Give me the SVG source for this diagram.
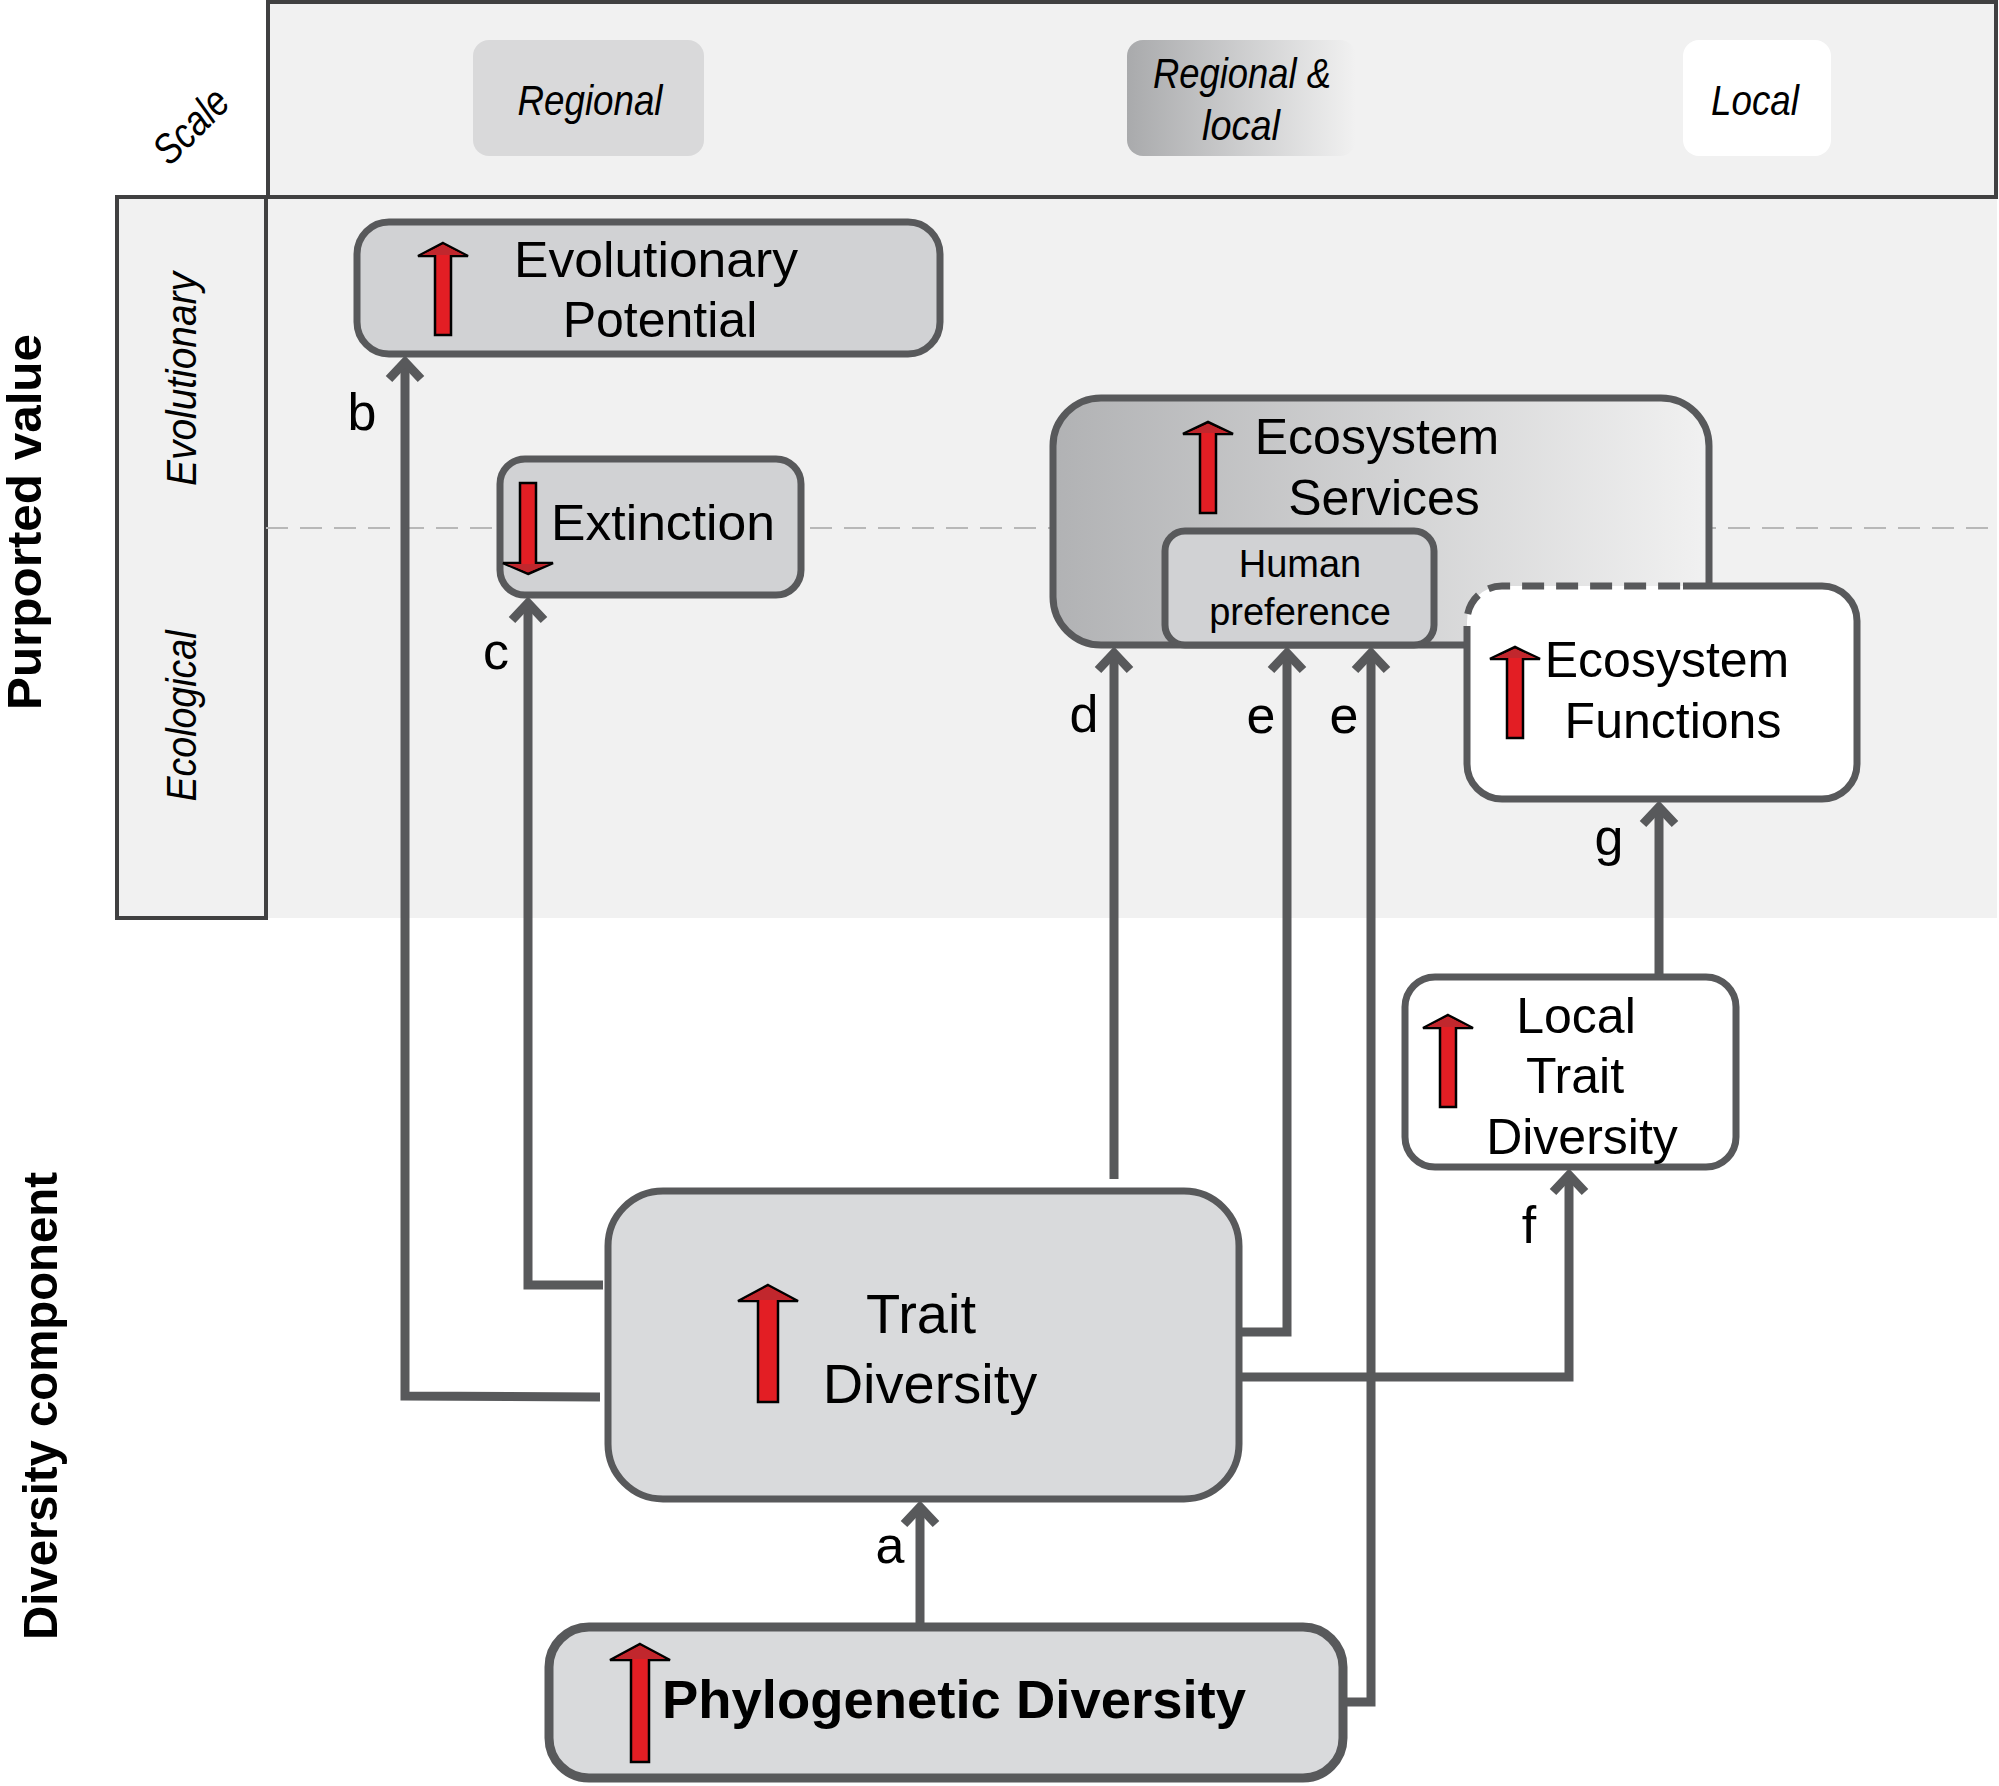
<svg xmlns="http://www.w3.org/2000/svg" width="1999" height="1786" viewBox="0 0 1999 1786">
<style>
.frame{fill:#f1f1f1;stroke:#404041;stroke-width:4}
.node{stroke:#58595b;stroke-width:7}
.lbl{font-family:"Liberation Sans",Arial,sans-serif;fill:#000;text-anchor:middle}
.ital{font-family:"Liberation Sans",Arial,sans-serif;font-style:italic;fill:#000;text-anchor:middle}
.bold{font-family:"Liberation Sans",Arial,sans-serif;font-weight:bold;fill:#000;text-anchor:middle}
.conn{fill:none;stroke:#58595b;stroke-width:9;stroke-linejoin:miter}
.red{fill:#e31e24;stroke:#000;stroke-width:2.5;stroke-linejoin:miter}
.head{fill:#c1272d;stroke:none}
</style>
<defs>
<linearGradient id="gES" x1="0" y1="0" x2="1" y2="0">
<stop offset="0" stop-color="#b1b2b4"/>
<stop offset="1" stop-color="#f1f1f1"/>
</linearGradient>
<linearGradient id="gRL" x1="0" y1="0" x2="1" y2="0">
<stop offset="0" stop-color="#a9aaac"/>
<stop offset="1" stop-color="#f1f1f1"/>
</linearGradient>
<marker id="chev" markerUnits="userSpaceOnUse" orient="auto" overflow="visible" refX="0" refY="0" markerWidth="1" markerHeight="1">
<path d="M-17,-16 L0,0 L-17,16" fill="none" stroke="#58595b" stroke-width="9"/>
</marker>
</defs>

<g id="background">
<rect x="266" y="197" width="1731" height="721" fill="#f1f1f1"/>
<rect class="frame" x="268" y="2" width="1728" height="195"/>
<rect class="frame" x="117" y="197" width="149" height="721"/>
<line x1="266" y1="528" x2="1997" y2="528" stroke="#b8b8b8" stroke-width="2" stroke-dasharray="22 12"/>
</g>

<g id="axis-labels">
<text class="bold" font-size="49" transform="translate(41,522) rotate(-90)" textLength="376" lengthAdjust="spacingAndGlyphs">Purported value</text>
<text class="bold" font-size="49" transform="translate(57,1406) rotate(-90)" textLength="468" lengthAdjust="spacingAndGlyphs">Diversity component</text>
<text class="ital" font-size="42" transform="translate(196,379) rotate(-90)" textLength="214" lengthAdjust="spacingAndGlyphs">Evolutionary</text>
<text class="ital" font-size="42" transform="translate(196,716) rotate(-90)" textLength="171" lengthAdjust="spacingAndGlyphs">Ecological</text>
<text class="ital" font-size="42" transform="translate(191,126) rotate(-45)" y="14" textLength="88" lengthAdjust="spacingAndGlyphs">Scale</text>
</g>

<g id="scale-regional">
<rect x="473" y="40" width="231" height="116" rx="16" fill="#d9d9da"/>
<text class="ital" font-size="42" x="590" y="115" textLength="145" lengthAdjust="spacingAndGlyphs">Regional</text>
</g>
<g id="scale-regional-local">
<rect x="1127" y="40" width="229" height="116" rx="16" fill="url(#gRL)"/>
<text class="ital" font-size="42" x="1242" y="88" textLength="178" lengthAdjust="spacingAndGlyphs">Regional &amp;</text>
<text class="ital" font-size="42" x="1241" y="140" textLength="78" lengthAdjust="spacingAndGlyphs">local</text>
</g>
<g id="scale-local">
<rect x="1683" y="40" width="148" height="116" rx="16" fill="#ffffff"/>
<text class="ital" font-size="42" x="1755" y="115" textLength="88" lengthAdjust="spacingAndGlyphs">Local</text>
</g>

<g id="evolutionary-potential">
<rect class="node" x="357" y="222" width="583" height="132" rx="32" fill="#d1d2d4"/>
<path class="red" d="M443,243 L468,256 L451,256 L451,335 L435,335 L435,256 L418,256 Z"/>
<path class="head" d="M443,245 L464,255 L422,255 Z"/>
<text class="lbl" font-size="50" x="656" y="277" textLength="284" lengthAdjust="spacingAndGlyphs">Evolutionary</text>
<text class="lbl" font-size="50" x="660" y="337">Potential</text>
</g>

<g id="extinction">
<rect class="node" x="500" y="459" width="301" height="136" rx="25" fill="#d1d2d4"/>
<path class="red" d="M528,574 L553,563 L536,563 L536,483 L520,483 L520,563 L503,563 Z"/>
<path class="head" d="M528,572 L549,564 L507,564 Z"/>
<text class="lbl" font-size="50" x="663" y="540" textLength="224" lengthAdjust="spacingAndGlyphs">Extinction</text>
</g>

<g id="ecosystem-services">
<rect class="node" x="1053" y="398" width="656" height="247" rx="48" fill="url(#gES)"/>
<path class="red" d="M1208,422 L1233,434 L1216,434 L1216,513 L1200,513 L1200,434 L1183,434 Z"/>
<path class="head" d="M1208,424 L1229,433 L1187,433 Z"/>
<text class="lbl" font-size="50" x="1377" y="454">Ecosystem</text>
<text class="lbl" font-size="50" x="1384" y="515">Services</text>
</g>

<g id="human-preference">
<rect class="node" x="1165" y="531" width="269" height="114" rx="20" fill="#d1d2d4"/>
<text class="lbl" font-size="38" x="1300" y="577">Human</text>
<text class="lbl" font-size="38" x="1300" y="625">preference</text>
</g>

<g id="ecosystem-functions">
<rect x="1467" y="586" width="390" height="213" rx="35" fill="#ffffff"/>
<path d="M1467,648 L1467,621 A35,35 0 0 1 1502,586 L1683,586" fill="none" stroke="#58595b" stroke-width="7" stroke-dasharray="22 12"/>
<path d="M1683,586 L1822,586 A35,35 0 0 1 1857,621 L1857,764 A35,35 0 0 1 1822,799 L1502,799 A35,35 0 0 1 1467,764 L1467,648" fill="none" stroke="#58595b" stroke-width="7"/>
<path class="red" d="M1515,647 L1540,659 L1523,659 L1523,738 L1507,738 L1507,659 L1490,659 Z"/>
<path class="head" d="M1515,649 L1536,658 L1494,658 Z"/>
<text class="lbl" font-size="50" x="1667" y="677">Ecosystem</text>
<text class="lbl" font-size="50" x="1673" y="738">Functions</text>
</g>

<g id="local-trait-diversity">
<rect class="node" x="1405" y="977" width="331" height="190" rx="30" fill="#ffffff"/>
<path class="red" d="M1448,1015 L1473,1028 L1456,1028 L1456,1107 L1440,1107 L1440,1028 L1423,1028 Z"/>
<path class="head" d="M1448,1017 L1469,1027 L1427,1027 Z"/>
<text class="lbl" font-size="50" x="1576" y="1033">Local</text>
<text class="lbl" font-size="50" x="1575" y="1093">Trait</text>
<text class="lbl" font-size="50" x="1582" y="1154">Diversity</text>
</g>

<g id="trait-diversity">
<rect class="node" x="608" y="1191" width="631" height="308" rx="55" fill="#d9dadc"/>
<path class="red" d="M768,1285 L798,1301 L778,1301 L778,1402 L758,1402 L758,1301 L738,1301 Z"/>
<path class="head" d="M768,1287 L793,1300 L743,1300 Z"/>
<text class="lbl" font-size="56" x="921" y="1333">Trait</text>
<text class="lbl" font-size="56" x="930" y="1403">Diversity</text>
</g>

<g id="phylogenetic-diversity">
<rect x="549" y="1627" width="794" height="151" rx="40" fill="#d9dadc" stroke="#58595b" stroke-width="9"/>
<path class="red" d="M640,1644 L670,1660 L649,1660 L649,1762 L631,1762 L631,1660 L610,1660 Z"/>
<path class="head" d="M640,1646 L665,1659 L615,1659 Z"/>
<text class="bold" font-size="54" x="954" y="1718" textLength="584" lengthAdjust="spacingAndGlyphs">Phylogenetic Diversity</text>
</g>

<g id="connectors">
<path class="conn" d="M600,1397 L405,1396 L405,362" marker-end="url(#chev)"/>
<path class="conn" d="M603,1285 L528,1285 L528,603" marker-end="url(#chev)"/>
<path class="conn" d="M1114,1179 L1114,653" marker-end="url(#chev)"/>
<path class="conn" d="M1242,1332 L1287,1332 L1287,653" marker-end="url(#chev)"/>
<path class="conn" d="M1347,1702 L1371,1702 L1371,653" marker-end="url(#chev)"/>
<path class="conn" d="M1242,1377 L1569,1377 L1569,1175" marker-end="url(#chev)"/>
<path class="conn" d="M1659,974 L1659,807" marker-end="url(#chev)"/>
<path class="conn" d="M920,1623 L920,1507" marker-end="url(#chev)"/>
<text class="lbl" font-size="52" x="362" y="430">b</text>
<text class="lbl" font-size="52" x="496" y="669">c</text>
<text class="lbl" font-size="52" x="1084" y="732">d</text>
<text class="lbl" font-size="52" x="1261" y="733">e</text>
<text class="lbl" font-size="52" x="1344" y="733">e</text>
<text class="lbl" font-size="52" x="1609" y="855">g</text>
<text class="lbl" font-size="52" x="1529" y="1243">f</text>
<text class="lbl" font-size="52" x="890" y="1563">a</text>
</g>
</svg>
